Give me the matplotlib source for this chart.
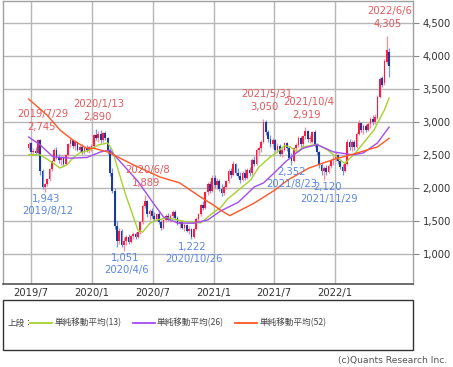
import matplotlib
matplotlib.use("Agg")
import matplotlib.pyplot as plt
import matplotlib.dates as mdates
from matplotlib.patches import Rectangle
from matplotlib.lines import Line2D
import pandas as pd
import numpy as np

# ---------------- data (weekly candles from 2019/6/24) ----------------
start_date = "2019-06-24"
opens = [2600, 2680, 2540, 2560, 2530, 2720, 2250, 2020, 2060, 2130, 2280, 2400, 2570, 2470, 2420, 2450,
         2360, 2500, 2660, 2720, 2630, 2690, 2580, 2620, 2550, 2600, 2570, 2620, 2640, 2800, 2760, 2820,
         2720, 2830, 2750, 2560, 2220, 1960, 1420, 1200, 1350, 1130, 1200, 1250, 1180, 1270, 1300, 1260,
         1330, 1480, 1720, 1800, 1600, 1650, 1570, 1530, 1600, 1480, 1400, 1510, 1580, 1520, 1570, 1640,
         1540, 1460, 1490, 1400, 1440, 1350, 1380, 1260, 1380, 1530, 1600, 1740, 1700, 1940, 2060, 1960,
         2150, 2040, 2100, 1980, 1920, 2020, 2100, 2250, 2200, 2360, 2230, 2180, 2120, 2220, 2150, 2270,
         2220, 2420, 2360, 2580, 2600, 2700, 3000, 2840, 2740, 2660, 2720, 2580, 2640, 2520, 2580, 2680,
         2600, 2460, 2400, 2600, 2650, 2760, 2660, 2780, 2860, 2740, 2700, 2840, 2650, 2540, 2340, 2250,
         2300, 2240, 2330, 2420, 2440, 2500, 2400, 2320, 2260, 2360, 2700, 2620, 2690, 2620, 2820, 2980,
         2880, 2940, 2880, 2960, 3050, 3000, 3060, 3380, 3660, 3580, 3900, 4060]
highs = [2690, 2700, 2600, 2620, 2735, 2745, 2290, 2080, 2150, 2300, 2420, 2600, 2620, 2520, 2480, 2480,
         2520, 2680, 2760, 2740, 2720, 2700, 2650, 2660, 2640, 2650, 2640, 2660, 2820, 2890, 2860, 2870,
         2850, 2860, 2770, 2600, 2300, 2000, 1500, 1400, 1380, 1250, 1280, 1300, 1290, 1330, 1340, 1350,
         1500, 1750, 1889, 1820, 1680, 1700, 1640, 1620, 1650, 1520, 1530, 1600, 1620, 1600, 1660, 1660,
         1580, 1520, 1520, 1470, 1460, 1420, 1400, 1400, 1560, 1620, 1760, 1800, 1960, 2090, 2100, 2200,
         2200, 2150, 2140, 2060, 2050, 2120, 2280, 2300, 2400, 2380, 2300, 2240, 2260, 2280, 2300, 2320,
         2450, 2480, 2600, 2640, 2720, 3050, 3020, 2880, 2800, 2760, 2740, 2680, 2660, 2620, 2700, 2700,
         2620, 2530, 2620, 2680, 2780, 2790, 2800, 2919, 2880, 2800, 2860, 2880, 2680, 2560, 2380, 2330,
         2340, 2360, 2440, 2480, 2540, 2520, 2440, 2360, 2400, 2740, 2740, 2720, 2720, 2850, 3030, 3000,
         2960, 2960, 3000, 3080, 3100, 3120, 3400, 3680, 3690, 3950, 4305, 4120]
lows = [2570, 2520, 2500, 2500, 2520, 2200, 1980, 1943, 2030, 2100, 2260, 2390, 2440, 2380, 2350, 2330,
        2340, 2480, 2620, 2600, 2580, 2560, 2540, 2520, 2510, 2540, 2530, 2560, 2620, 2720, 2700, 2680,
        2700, 2720, 2520, 2180, 1920, 1380, 1100, 1150, 1100, 1051, 1130, 1150, 1160, 1220, 1230, 1240,
        1300, 1460, 1700, 1560, 1520, 1540, 1500, 1500, 1460, 1360, 1380, 1480, 1500, 1490, 1540, 1520,
        1440, 1400, 1380, 1350, 1330, 1300, 1222, 1240, 1360, 1480, 1580, 1660, 1680, 1900, 1930, 1940,
        2000, 1980, 1950, 1880, 1900, 1990, 2080, 2150, 2180, 2200, 2150, 2080, 2100, 2120, 2130, 2180,
        2200, 2330, 2340, 2500, 2540, 2680, 2800, 2700, 2620, 2600, 2560, 2540, 2480, 2470, 2560, 2560,
        2440, 2352, 2390, 2560, 2620, 2620, 2600, 2740, 2700, 2680, 2680, 2620, 2500, 2300, 2200, 2120,
        2200, 2220, 2300, 2350, 2400, 2360, 2280, 2200, 2240, 2340, 2580, 2560, 2580, 2600, 2800, 2850,
        2820, 2840, 2860, 2900, 2950, 2960, 3040, 3360, 3520, 3560, 3880, 3680]
closes = [2660, 2540, 2560, 2530, 2720, 2250, 2020, 2060, 2130, 2280, 2400, 2570, 2470, 2420, 2450, 2360,
          2500, 2660, 2720, 2630, 2690, 2580, 2620, 2550, 2600, 2570, 2620, 2640, 2800, 2760, 2820, 2720,
          2830, 2750, 2560, 2220, 1960, 1420, 1200, 1350, 1130, 1200, 1250, 1180, 1270, 1300, 1260, 1330,
          1480, 1720, 1800, 1600, 1650, 1570, 1530, 1600, 1480, 1400, 1510, 1580, 1520, 1570, 1640, 1540,
          1460, 1490, 1400, 1440, 1350, 1380, 1260, 1380, 1530, 1600, 1740, 1700, 1940, 2060, 1960, 2150,
          2040, 2100, 1980, 1920, 2020, 2100, 2250, 2200, 2360, 2230, 2180, 2120, 2220, 2150, 2270, 2220,
          2420, 2360, 2580, 2600, 2700, 3000, 2840, 2740, 2660, 2720, 2580, 2640, 2520, 2580, 2680, 2600,
          2460, 2400, 2600, 2650, 2760, 2660, 2780, 2860, 2740, 2760, 2840, 2650, 2540, 2340, 2250, 2300,
          2240, 2330, 2420, 2440, 2500, 2400, 2320, 2260, 2360, 2700, 2620, 2690, 2620, 2820, 2980, 2880,
          2940, 2880, 2960, 3050, 3000, 3080, 3380, 3650, 3560, 3920, 4080, 3850]

# moving averages (week index, value)
ma13_idx = [0, 5, 10, 13.5, 16.5, 19, 22, 26.5, 30, 34, 36, 41.5, 47, 49, 52, 55, 60, 62, 68, 74,
            79.5, 82.5, 85.5, 95.5, 99, 104, 107, 110, 112.5, 115.5, 118, 124, 128.5, 134, 136,
            140.5, 144, 148.5, 153, 155]
ma13_val = [2500, 2500, 2390, 2300, 2350, 2450, 2530, 2575, 2650, 2680, 2570, 1920, 1363, 1330, 1460,
            1515, 1545, 1530, 1485, 1470, 1630, 1700, 1830, 2120, 2315, 2470, 2545, 2640, 2620, 2545,
            2620, 2660, 2575, 2420, 2370, 2530, 2680, 2875, 3180, 3360]
ma26_idx = [0, 5, 10.5, 18, 25, 31, 35, 41.5, 47, 53, 58, 64, 71, 77, 82.5, 90, 92.5, 97, 101, 106,
            110, 114, 118, 124, 131, 139.5, 144, 150, 155]
ma26_val = [2770, 2650, 2470, 2450, 2460, 2545, 2570, 2315, 2100, 1800, 1560, 1470, 1465, 1515, 1650,
            1780, 1860, 2015, 2075, 2240, 2380, 2500, 2600, 2655, 2545, 2500, 2530, 2680, 2920]
ma52_idx = [0, 8, 13.5, 19, 25, 28, 34, 45, 56.5, 65, 74, 79.5, 82.5, 86.5, 97, 106, 111.5, 120.5,
            126.5, 132, 138.5, 150, 155]
ma52_val = [3345, 3100, 2875, 2725, 2600, 2600, 2545, 2350, 2165, 2075, 1860, 1740, 1665, 1580, 1770,
            1970, 2120, 2300, 2375, 2440, 2500, 2620, 2750]

# highlighted highs / lows (week index, kind)
mark_idx = [5, 29, 50, 101, 119, 154, 7, 41, 70, 113, 127]
mark_kind = ["high"] * 6 + ["low"] * 5

y_ticks = [1000, 1500, 2000, 2500, 3000, 3500, 4000, 4500]
x_tick_dates = ["2019-07-01", "2020-01-01", "2020-07-01", "2021-01-01", "2021-07-01", "2022-01-01"]
x_tick_labels = ["2019/7", "2020/1", "2020/7", "2021/1", "2021/7", "2022/1"]
legend_labels = ["単純移動平均(13)", "単純移動平均(26)", "単純移動平均(52)"]

# ---------------- styling ----------------
W, H = 453, 367
NARROW = ["Liberation Sans Narrow", "DejaVu Sans"]
CJK = ["Noto Sans CJK JP", "DejaVu Sans"]
C_UP, C_UPW = "#ff1a44", "#ff8a9a"
C_DN, C_DNW = "#1a3a9c", "#7896d6"
C_MA = ["#a6d22c", "#a24cf2", "#ff5722"]
C_HI_TXT, C_LO_TXT = "#e3585c", "#5a86e6"
FS = 7.2
# per-label horizontal nudges (pixels) for value / date texts
val_dx = {113: 0, 127: 4}
date_dx = {113: 0, 127: 5}

dates = pd.date_range(start_date, periods=len(closes), freq="7D")
dnum = mdates.date2num(dates)

fig = plt.figure(figsize=(W / 100, H / 100), dpi=100)
ax = fig.add_axes([3 / W, (H - 284) / H, 410 / W, 283 / H])

o = np.array(opens); h = np.array(highs); l = np.array(lows); c = np.array(closes)
up = c >= o
ax.vlines(dnum[up], l[up], h[up], color=C_UPW, lw=0.9, zorder=3)
ax.vlines(dnum[~up], l[~up], h[~up], color=C_DNW, lw=0.9, zorder=3)
bw = 5.2
ax.bar(dnum[up], c[up] - o[up], bottom=o[up], width=bw, color=C_UP, lw=0, zorder=4)
ax.bar(dnum[~up], o[~up] - c[~up], bottom=c[~up], width=bw, color=C_DN, lw=0, zorder=4)

def idx_to_num(idx):
    return dnum[0] + np.array(idx, dtype=float) * 7.0

ax.plot(idx_to_num(ma13_idx), ma13_val, color=C_MA[0], lw=1.0, zorder=5)
ax.plot(idx_to_num(ma26_idx), ma26_val, color=C_MA[1], lw=1.0, zorder=5)
ax.plot(idx_to_num(ma52_idx), ma52_val, color=C_MA[2], lw=1.0, zorder=5)

for i, kind in zip(mark_idx, mark_kind):
    d = dates[i]
    dlabel = f"{d.year}/{d.month}/{d.day}"
    if kind == "high":
        v = highs[i]
        ax.annotate(f"{v:,}", (dnum[i], v), xytext=(1, 12), textcoords="offset pixels",
                    ha="center", va="center", fontsize=FS, family=NARROW, color=C_HI_TXT, zorder=6)
        ax.annotate(dlabel, (dnum[i], v), xytext=(3, 25), textcoords="offset pixels",
                    ha="center", va="center", fontsize=FS, family=NARROW, color=C_HI_TXT, zorder=6)
    else:
        v = lows[i]
        ax.annotate(f"{v:,}", (dnum[i], v), xytext=(val_dx.get(i, 1), -7.5), textcoords="offset pixels",
                    ha="center", va="center", fontsize=FS, family=NARROW, color=C_LO_TXT, zorder=6)
        ax.annotate(dlabel, (dnum[i], v), xytext=(date_dx.get(i, 3), -19.5), textcoords="offset pixels",
                    ha="center", va="center", fontsize=FS, family=NARROW, color=C_LO_TXT, zorder=6)

ax.set_ylim(546, 4828)
ax.set_xlim(mdates.datestr2num("2019-04-08"), mdates.datestr2num("2022-08-24"))
ax.yaxis.tick_right()
ax.set_yticks(y_ticks)
ax.set_yticklabels([f"{v:,}" for v in y_ticks], fontsize=FS, family=NARROW, color="#333333")
xt = [mdates.datestr2num(s) for s in x_tick_dates]
ax.set_xticks(xt)
ax.set_xticklabels(x_tick_labels, fontsize=FS, family=NARROW, color="#333333")
ax.tick_params(axis="y", length=4, width=0.8, color="#888888", pad=3)
ax.tick_params(axis="x", length=0, pad=3)
ax.grid(True, color="#b7b7b7", lw=1.0, zorder=0)
ax.set_axisbelow(True)
for s in ["left", "top", "right"]:
    ax.spines[s].set_color("#a0a0a0")
    ax.spines[s].set_linewidth(1.0)
ax.spines["bottom"].set_color("#555555")
ax.spines["bottom"].set_linewidth(1.2)

fig.add_artist(Rectangle((3 / W, (H - 350) / H), 410 / W, 50 / H, transform=fig.transFigure,
                         fill=False, ec="#333333", lw=1.0))
ly = (H - 323) / H
fig.text(8 / W, ly, "上段：", fontsize=6.2, family=CJK, color="#444444", ha="left", va="center")
seg_x = [(30, 52, 55), (133, 155, 157), (235, 257, 260)]
for (x0, x1, xt_), col, lab in zip(seg_x, C_MA, legend_labels):
    fig.add_artist(Line2D([x0 / W, x1 / W], [ly, ly], transform=fig.transFigure, color=col, lw=1.3))
    fig.text(xt_ / W, ly, lab, fontsize=6.2, family=CJK, color="#444444", ha="left", va="center")

fig.text(447 / W, (H - 360) / H, "(c)Quants Research Inc.", fontsize=6.6, family=NARROW,
         color="#555555", ha="right", va="center")

fig.savefig("out.png", dpi=100)
